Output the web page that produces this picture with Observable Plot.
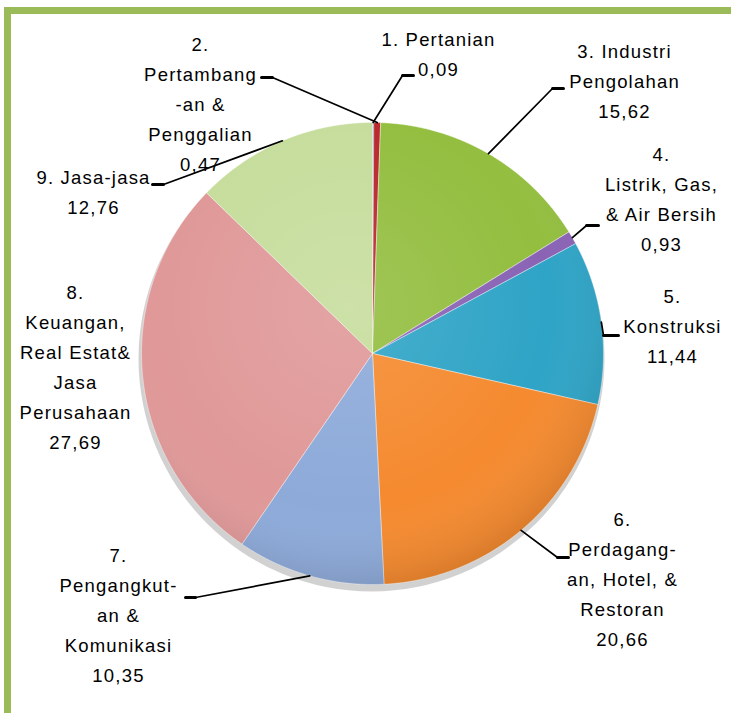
<!DOCTYPE html>
<html><head><meta charset="utf-8">
<script src="https://cdn.jsdelivr.net/npm/d3@7"></script>
<script src="https://cdn.jsdelivr.net/npm/@observablehq/plot@0.6"></script>
<style>
body{margin:0;background:#fff}
#chart{position:relative;width:731px;height:713px;overflow:hidden;background:#fff}
#frame{position:absolute;left:4px;top:7px;width:900px;height:900px;border:7px solid #9BBB59;pointer-events:none}
#chart svg{position:absolute;left:0;top:0}
</style>
</head><body><div id="chart"><div id="frame"></div></div>
<script>
// ---- data ----
const sectors = ["1. Pertanian","2. Pertambangan & Penggalian","3. Industri Pengolahan","4. Listrik, Gas, & Air Bersih","5. Konstruksi","6. Perdagangan, Hotel, & Restoran","7. Pengangkutan & Komunikasi","8. Keuangan, Real Estat & Jasa Perusahaan","9. Jasa-jasa"];
const values = [0.09, 0.47, 15.62, 0.93, 11.44, 20.66, 10.35, 27.69, 12.76];
const valueLabels = ["0,09","0,47","15,62","0,93","11,44","20,66","10,35","27,69","12,76"];
const nameLines = [
  ["1. Pertanian"],
  ["2.","Pertambang","-an &","Penggalian"],
  ["3. Industri","Pengolahan"],
  ["4.","Listrik, Gas,","& Air Bersih"],
  ["5.","Konstruksi"],
  ["6.","Perdagang-","an, Hotel, &","Restoran"],
  ["7.","Pengangkut-","an &","Komunikasi"],
  ["8.","Keuangan,","Real Estat&","Jasa","Perusahaan"],
  ["9. Jasa-jasa"]
];
const colors = ["#4F81BD","#B8282B","#93BE3F","#8A63B5","#2FA4C6","#F58A2F","#8DAAD9","#E09898","#C6DD9C"];

// ---- layout ----
const W = 731, H = 713, CX = 372, CY = 353, R = 231, LINE = 30;
const labelPos = [[438,40],[200,45],[624,52],[661,155],[672,297],[622,520],[118,556],[75,293],[93,178]];
const leaderElbow = [[402,75],[272,77],[552,88],[586,225],[603,335],[557,557],[195,597],null,[163,184]];
const leaderEnd   = [[413,75],[261,77],[563,88],[598,225],[618,335],[568,557],[185,597],null,[152,184]];

const arcs = d3.pie().sort(null).value(d => d)(values);
const pt = (a, r) => [CX + r * Math.sin(a), CY - r * Math.cos(a)];

const slicePts = arcs.map((a, i) => {
  const pts = [{i, x: CX, y: CY}];
  const n = Math.max(2, Math.ceil((a.endAngle - a.startAngle) / 0.004));
  for (let k = 0; k <= n; k++) {
    const [x, y] = pt(a.startAngle + (a.endAngle - a.startAngle) * k / n, R);
    pts.push({i, x, y});
  }
  pts.push({i, x: CX, y: CY});
  return pts;
});

const leaders = [], ticks = [];
arcs.forEach((a, i) => {
  if (!leaderElbow[i]) return;
  const [ex, ey] = pt((a.startAngle + a.endAngle) / 2, R);
  leaders.push({i, x: ex, y: ey}, {i, x: leaderElbow[i][0], y: leaderElbow[i][1]});
  ticks.push({i, x: leaderElbow[i][0], y: leaderElbow[i][1]}, {i, x: leaderEnd[i][0], y: leaderEnd[i][1]});
});

const texts = [];
nameLines.forEach((lines, i) => {
  [...lines, valueLabels[i]].forEach((t, k) => texts.push({t, x: labelPos[i][0], y: labelPos[i][1] + k * LINE}));
});

const plot = Plot.plot({
  width: W, height: H, margin: 0,
  x: {domain: [0, W], range: [0, W], axis: null},
  y: {domain: [0, H], range: [0, H], axis: null},
  style: {fontFamily: "'Liberation Sans', Arial, sans-serif", fontSize: "18.5px", letterSpacing: "1.2px", background: "transparent", color: "#000"},
  marks: [
    Plot.dot([{x: CX - 1, y: CY + 5}], {x: "x", y: "y", r: R + 2, fill: "#000", fillOpacity: 0.18, stroke: "none"}),
    ...slicePts.map((pts, i) => Plot.line(pts, {x: "x", y: "y", fill: colors[i], stroke: "#fff", strokeWidth: 0.6, strokeOpacity: 0.7, curve: "linear"})),
    Plot.dot([{x: CX, y: CY}], {x: "x", y: "y", r: R, fill: "url(#shade)", stroke: "none"}),
    Plot.line(leaders, {x: "x", y: "y", z: "i", stroke: "#000", strokeWidth: 1.7}),
    Plot.line(ticks, {x: "x", y: "y", z: "i", stroke: "#000", strokeWidth: 3}),
    Plot.text(texts, {x: "x", y: "y", text: "t", fill: "#000", fontSize: 18.5})
  ]
});

const defs = d3.select(plot).insert("defs", ":first-child");
const g = defs.append("radialGradient").attr("id", "shade").attr("cx", "45%").attr("cy", "40%").attr("r", "62%");
g.append("stop").attr("offset", "0%").attr("stop-color", "#fff").attr("stop-opacity", 0.12);
g.append("stop").attr("offset", "70%").attr("stop-color", "#fff").attr("stop-opacity", 0);
g.append("stop").attr("offset", "100%").attr("stop-color", "#000").attr("stop-opacity", 0.12);

document.getElementById("chart").appendChild(plot);
</script>
</body></html>
